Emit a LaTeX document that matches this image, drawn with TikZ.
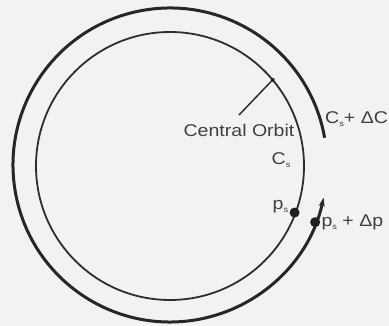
\documentclass[tikz,border=0pt]{standalone}
\usepackage{fontspec}
\setmainfont{Liberation Sans}
\newfontfamily\lab[FakeStretch=1.15]{Liberation Sans}
\usetikzlibrary{arrows.meta,calc}
\newcommand{\subsm}[1]{\raisebox{-0.35ex}{\fontsize{8}{8}\selectfont #1}}
\begin{document}
\begin{tikzpicture}[x=1pt,y=1pt,
  inner/.style={line width=1.8pt,draw=black!82},
  outer/.style={line width=3pt,draw=black!85},
  lbl/.style={inner sep=0pt,font=\lab\fontsize{17}{19}\selectfont,text=black!75},
  dotn/.style={circle,fill=black!88,inner sep=0pt,minimum size=10pt}]
\fill[black!5] (0,0) rectangle (389,326);
\useasboundingbox (0,0) rectangle (389,326);
\coordinate (O) at (170,160);
\coordinate (O2) at (170,161);
\draw[inner] (O) circle (134);
\draw[outer,-{Stealth[length=9pt,width=6pt]}] ($(O2)+(10:157)$) arc (10:348:157);
\node[dotn] (ps) at ($(O)+(-20.5:133)$) {};
\node[dotn] (psd) at ($(O2)+(-21.5:156)$) {};
\node[lbl,anchor=east] (lps) at ([xshift=-1pt,yshift=6pt]ps.west) {p\subsm{s}};
\node[lbl,anchor=west] (lpsd) at ([xshift=1pt]psd.east) {p\subsm{s} + Δp};
\node[lbl] (cs) at (281,166) {C\subsm{s}};
\node[lbl,anchor=west] (csd) at (325,207) {C\subsm{s}+ ΔC};
\node[lbl] (co) at (239,196) {Central Orbit};
\coordinate (lead) at ($(O)+(40:134)$);
\coordinate (leadstart) at (239,211);
\draw[line width=1.5pt,black!82] (leadstart) -- (lead);
\fill[black!85] (lead) circle (2pt);
\end{tikzpicture}
\end{document}
